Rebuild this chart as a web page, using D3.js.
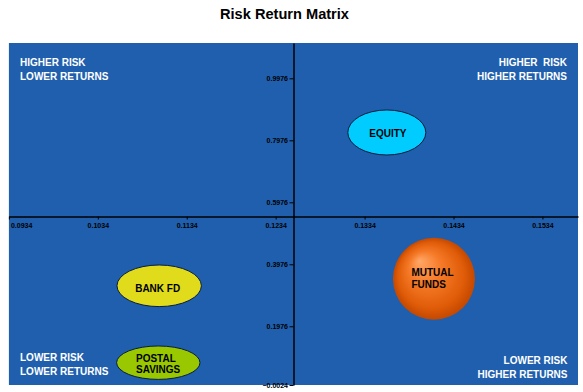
<!DOCTYPE html>
<html>
<head>
<meta charset="utf-8">
<script src="https://cdn.jsdelivr.net/npm/d3@7/dist/d3.min.js"></script>
<style>
  html, body { margin: 0; padding: 0; background: #fff; }
  svg { display: block; }
  text { font-family: "Liberation Sans", Arial, sans-serif; }
</style>
</head>
<body>
<svg id="chart" width="583" height="392"></svg>
<script>
// ---- data ----
const title = "Risk Return Matrix";
const categories = ["EQUITY", "MUTUAL FUNDS", "BANK FD", "POSTAL SAVINGS"];
const risk = [0.1359, 0.1412, 0.1103, 0.1102];
const returns = [0.8228, 0.3511, 0.3282, 0.0802];
const xTicks = [0.0934, 0.1034, 0.1134, 0.1234, 0.1334, 0.1434, 0.1534];
const yTicks = [0.9976, 0.7976, 0.5976, 0.3976, 0.1976, -0.0024];
const xDomain = [0.0934, 0.1574];
const yDomain = [0.0082, 1.1115];
const axisCross = { risk: 0.1254, ret: 0.5534 };
const quadrantLabels = [
  ["HIGHER RISK", "LOWER RETURNS"],
  ["HIGHER  RISK", "HIGHER RETURNS"],
  ["LOWER RISK", "LOWER RETURNS"],
  ["LOWER RISK", "HIGHER RETURNS"]
];

// ---- styles (not data) ----
const shapeStyle = {
  "EQUITY":         { kind: "ellipse", rx: 39,   ry: 22.5, fill: "#00ccff", lines: ["EQUITY"], anchor: "middle", dx: 1, dy: [4.5] },
  "MUTUAL FUNDS":   { kind: "sphere",  rx: 41,   ry: 41,   fill: "url(#orangeBall)", lines: ["MUTUAL", "FUNDS"], anchor: "start", dx: -22.5, dy: [-3, 8.8] },
  "BANK FD":        { kind: "ellipse", rx: 42.2, ry: 20.8, fill: "#e0dc1c", lines: ["BANK FD"], anchor: "middle", dx: -1.5, dy: [6] },
  "POSTAL SAVINGS": { kind: "ellipse", rx: 41.7, ry: 16.7, fill: "#99c800", lines: ["POSTAL", "SAVINGS"], anchor: "start", dx: -22.3, dy: [-1, 10.7] }
};
const plot = { left: 8.9, right: 578, top: 43, bottom: 385 };
const bg = "#1f5fae";

const svg = d3.select("#chart");

const defs = svg.append("defs");
const grad = defs.append("radialGradient").attr("id", "orangeBall")
  .attr("cx", "50%").attr("cy", "50%").attr("r", "50%")
  .attr("fx", "32%").attr("fy", "28%");
grad.append("stop").attr("offset", "0%").attr("stop-color", "#ffa868");
grad.append("stop").attr("offset", "40%").attr("stop-color", "#f57a28");
grad.append("stop").attr("offset", "80%").attr("stop-color", "#e05c08");
grad.append("stop").attr("offset", "100%").attr("stop-color", "#c44800");

defs.append("clipPath").attr("id", "plotClip").append("rect")
  .attr("x", plot.left).attr("y", plot.top)
  .attr("width", plot.right - plot.left).attr("height", plot.bottom - plot.top);

// title
svg.append("text").attr("x", 284.5).attr("y", 19)
  .attr("text-anchor", "middle").attr("font-size", 14.6).attr("font-weight", "bold")
  .attr("fill", "#000").text(title);

// background
svg.append("rect").attr("x", plot.left).attr("y", plot.top)
  .attr("width", plot.right - plot.left).attr("height", plot.bottom - plot.top)
  .attr("fill", bg);

const x = d3.scaleLinear().domain(xDomain).range([plot.left, plot.right]);
const y = d3.scaleLinear().domain(yDomain).range([plot.bottom, plot.top]).clamp(true);

const fmt = d3.format(".4f");

// x axis
const ax0 = Math.round(y(axisCross.ret)) + 0.5;
const xAxisG = svg.append("g").attr("transform", `translate(0,${ax0})`)
  .call(d3.axisBottom(x).tickValues(xTicks).tickFormat(fmt).tickSize(3).tickSizeOuter(0));
xAxisG.select(".domain").attr("stroke", "#000").attr("stroke-width", 1.5);
xAxisG.selectAll(".tick line").attr("stroke", "#000");
xAxisG.selectAll(".tick text").attr("font-family", "Liberation Sans, Arial, sans-serif")
  .attr("font-size", 7).attr("font-weight", "bold").attr("fill", "#000")
  .attr("y", 11).attr("dy", 0)
  .attr("text-anchor", (d, i) => i === 0 ? "start" : "middle")
  .attr("x", (d, i) => i === 0 ? 1.5 : 0);

// y axis
const ay0 = Math.round(x(axisCross.risk)) + 0.5;
const yAxisG = svg.append("g").attr("transform", `translate(${ay0},0)`)
  .call(d3.axisLeft(y).tickValues(yTicks).tickFormat(fmt).tickSize(4).tickSizeOuter(0));
yAxisG.select(".domain").attr("stroke", "#000").attr("stroke-width", 1.5);
yAxisG.selectAll(".tick line").attr("stroke", "#000");
yAxisG.selectAll(".tick text").attr("font-family", "Liberation Sans, Arial, sans-serif")
  .attr("font-size", 7).attr("font-weight", "bold").attr("fill", "#000")
  .attr("x", -5.5).attr("dy", "0.34em");

// quadrant labels
const qPos = [
  { x: 20, y: 66, anchor: "start" },
  { x: 567, y: 66, anchor: "end" },
  { x: 20, y: 360.7, anchor: "start" },
  { x: 567.5, y: 364, anchor: "end" }
];
quadrantLabels.forEach((lines, i) => {
  const t = svg.append("text").attr("x", qPos[i].x).attr("y", qPos[i].y)
    .attr("text-anchor", qPos[i].anchor).attr("font-size", 10).attr("font-weight", "bold")
    .attr("fill", "#fff").attr("xml:space", "preserve").style("white-space", "pre");
  lines.forEach((l, j) => {
    t.append("tspan").attr("x", qPos[i].x).attr("dy", j === 0 ? 0 : 14.3).text(l);
  });
});

// bubbles
const items = categories.map((c, i) => ({ name: c, risk: risk[i], ret: returns[i] }));
const g = svg.append("g").attr("clip-path", "url(#plotClip)");
const node = g.selectAll("g.item").data(items).join("g").attr("class", "item")
  .attr("transform", d => `translate(${x(d.risk)},${y(d.ret)})`);

node.append("ellipse")
  .attr("rx", d => shapeStyle[d.name].rx)
  .attr("ry", d => shapeStyle[d.name].ry)
  .attr("fill", d => shapeStyle[d.name].fill)
  .attr("stroke", d => shapeStyle[d.name].kind === "sphere" ? "none" : "#0b1e3c")
  .attr("stroke-width", 1);

node.each(function(d) {
  const s = shapeStyle[d.name];
  s.lines.forEach((l, j) => {
    d3.select(this).append("text")
      .attr("x", s.dx).attr("y", s.dy[j])
      .attr("text-anchor", s.anchor)
      .attr("font-size", 10).attr("font-weight", "bold").attr("fill", "#000")
      .text(l);
  });
});
</script>
</body>
</html>
